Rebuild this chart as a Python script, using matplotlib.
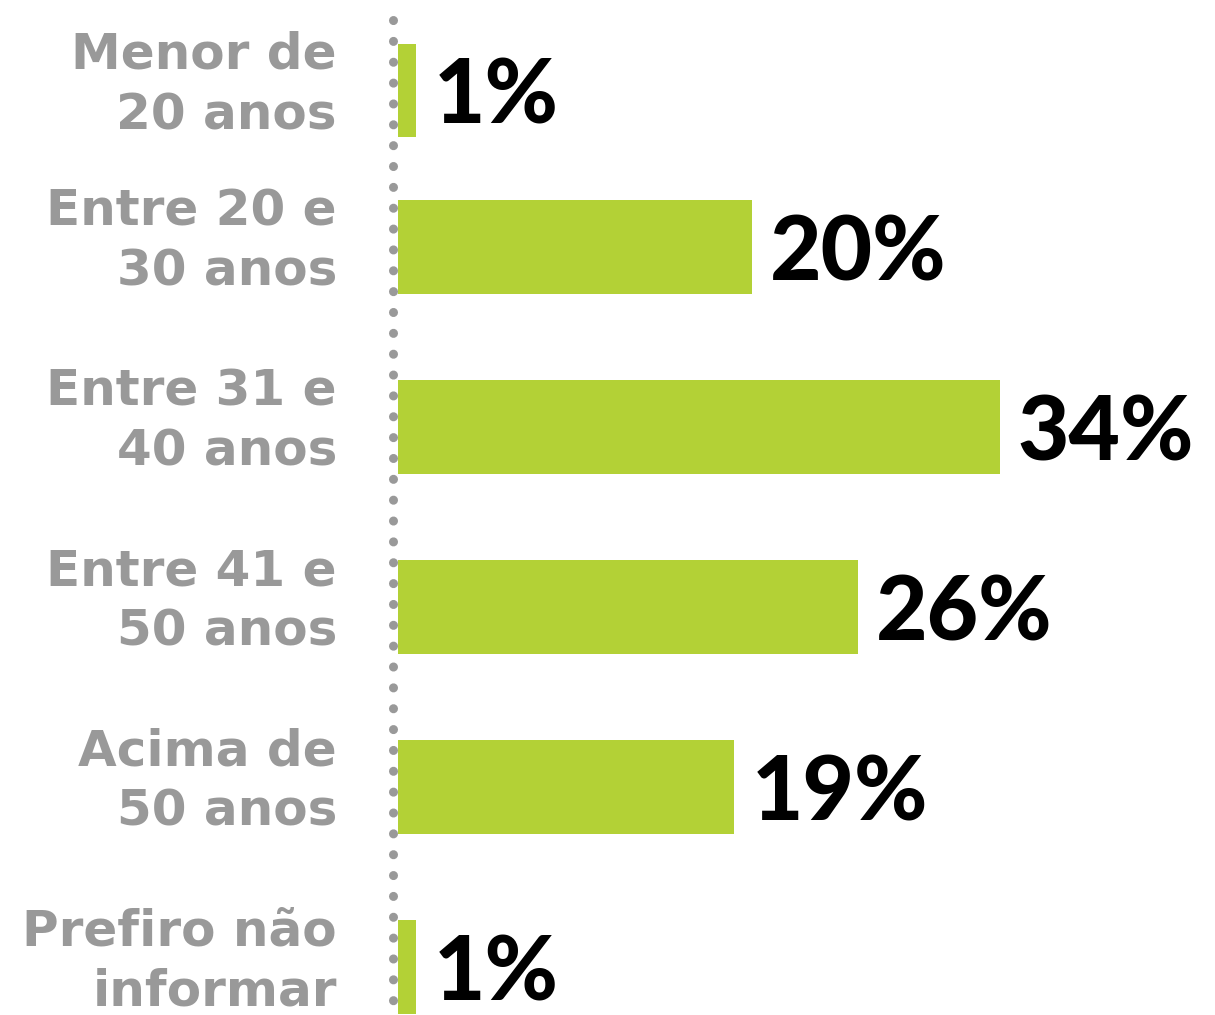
import matplotlib
matplotlib.use("Agg")
import matplotlib.pyplot as plt
import numpy as np

categories = ["Menor de\n20 anos", "Entre 20 e\n30 anos", "Entre 31 e\n40 anos",
              "Entre 41 e\n50 anos", "Acima de\n50 anos", "Prefiro não\ninformar"]
values = [1, 20, 34, 26, 19, 1]
value_labels = ["1%", "20%", "34%", "26%", "19%", "1%"]

green = "#b3d136"
gray = "#999999"

fig = plt.figure(figsize=(12.15, 10.15), dpi=100)
ax = fig.add_axes([0, 0, 1, 1])

# first row sits a bit lower than the regular spacing
pos = np.arange(len(values)) + np.array([0.13, 0, 0, 0, 0, 0])

ax.barh(pos, values, height=0.517, color=green, left=0)

# dotted baseline
ax.plot([-0.28, -0.28], [-0.26, 5.3], color=gray, linestyle=(0, (0.01, 2.3)),
        linewidth=6.5, dash_capstyle="round")

for p, cat, v, lab in zip(pos, categories, values, value_labels):
    ax.text(-3.45, p - 0.03, cat, ha="right", va="center", fontsize=36,
            fontweight="bold", color=gray, family="DejaVu Sans", linespacing=1.32)
    ax.text(v + 1.0, p + 0.04, lab, ha="left", va="center", fontsize=64,
            fontweight="black", color="black", family="Lato")

ax.set_xlim(-398 / 17.7, (1215 - 398) / 17.7)
ax.set_ylim((1015 - 67) / 180, -67 / 180)
ax.axis("off")

fig.savefig("out.png", dpi=100)
